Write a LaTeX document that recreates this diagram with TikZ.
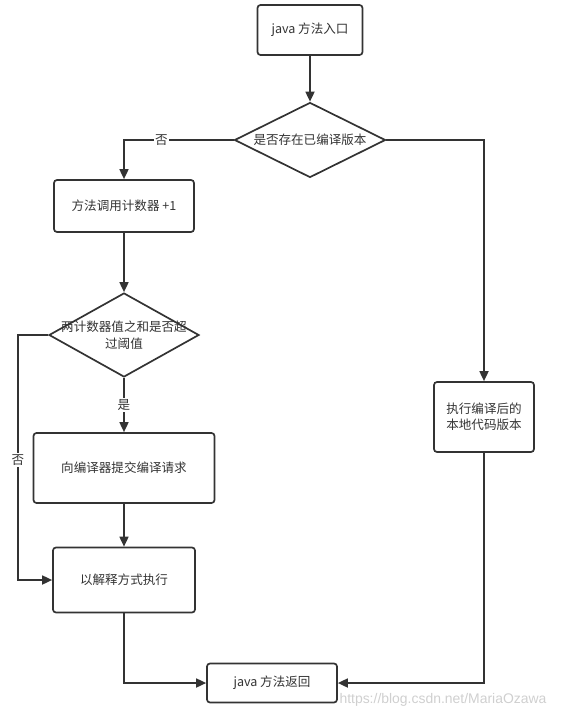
\documentclass[tikz,border=0pt]{standalone}
\usepackage{fontspec}
\setmainfont{Noto Sans CJK SC}
\newfontfamily\markfont{Liberation Sans}
\usetikzlibrary{arrows.meta}
\usetikzlibrary{positioning}
\usetikzlibrary{shapes.geometric}

\definecolor{linegray}{HTML}{333333}
\definecolor{markgray}{HTML}{CFCFCF}

\tikzset{
  procbox/.style={draw=linegray, line width=1.7bp, rounded corners=3bp, text=linegray, align=center, inner sep=0pt},
  decision/.style={draw=linegray, line width=1.7bp, diamond, inner sep=0pt},
  flow/.style={draw=linegray, line width=1.7bp, -{Triangle[length=10bp,width=9bp]}},
  answer/.style={fill=white, text=linegray, inner sep=1.5bp}
}

\begin{document}
\begin{tikzpicture}[x=1bp, y=-1bp, font=\fontsize{12.6}{16.5}\selectfont]
      \useasboundingbox (0,0) rectangle (569,718);

      % Define the steps
      \node[procbox, minimum width=105bp, minimum height=50bp] (entry) at (310,30) {java 方法入口};
      \node[decision, minimum width=151bp, minimum height=75bp,
            label={[text=linegray]center:是否存在已编译版本}] (hascode) at (310,140) {};
      \node[procbox, minimum width=140bp, minimum height=52bp] (count) at (124,206) {方法调用计数器 +1};
      \node[decision, minimum width=150bp, minimum height=84bp,
            label={[text=linegray, align=center]center:两计数器值之和是否超\\过阈值}] (threshold) at (124,335) {};
      \node[procbox, minimum width=181bp, minimum height=70bp] (submit) at (124,468) {向编译器提交编译请求};
      \node[procbox, minimum width=142bp, minimum height=65bp] (interp) at (124,580) {以解释方式执行};
      \node[procbox, minimum width=100bp, minimum height=70bp] (native) at (484,417) {执行编译后的\\本地代码版本};
      \node[procbox, minimum width=130bp, minimum height=39bp] (return) at (272,683) {java 方法返回};
      \coordinate (leftbend) at (18,335);

      % Draw the connectors
      \draw[flow] (entry) -- (hascode);
      \draw[flow] (hascode.west) -| node[answer, pos=.33] (nohas) {否} (count.north);
      \draw[flow] (hascode.east) -| (native.north);
      \draw[flow] (count) -- (threshold);
      \draw[flow] (threshold) -- node[answer] (yesover) {是} (submit);
      \draw[flow] (submit) -- (interp);
      \draw[flow] (threshold.west) -- (leftbend) |- node[answer, pos=.255] (noover) {否} (interp.west);
      \draw[flow] (interp.south) |- (return.west);
      \draw[flow] (native.south) |- (return.east);

      % Watermark
      \node[text=markgray, font=\markfont\fontsize{14}{16}\selectfont] (watermark) at (443,700) {https://blog.csdn.net/MariaOzawa};
    \end{tikzpicture}
\end{document}
